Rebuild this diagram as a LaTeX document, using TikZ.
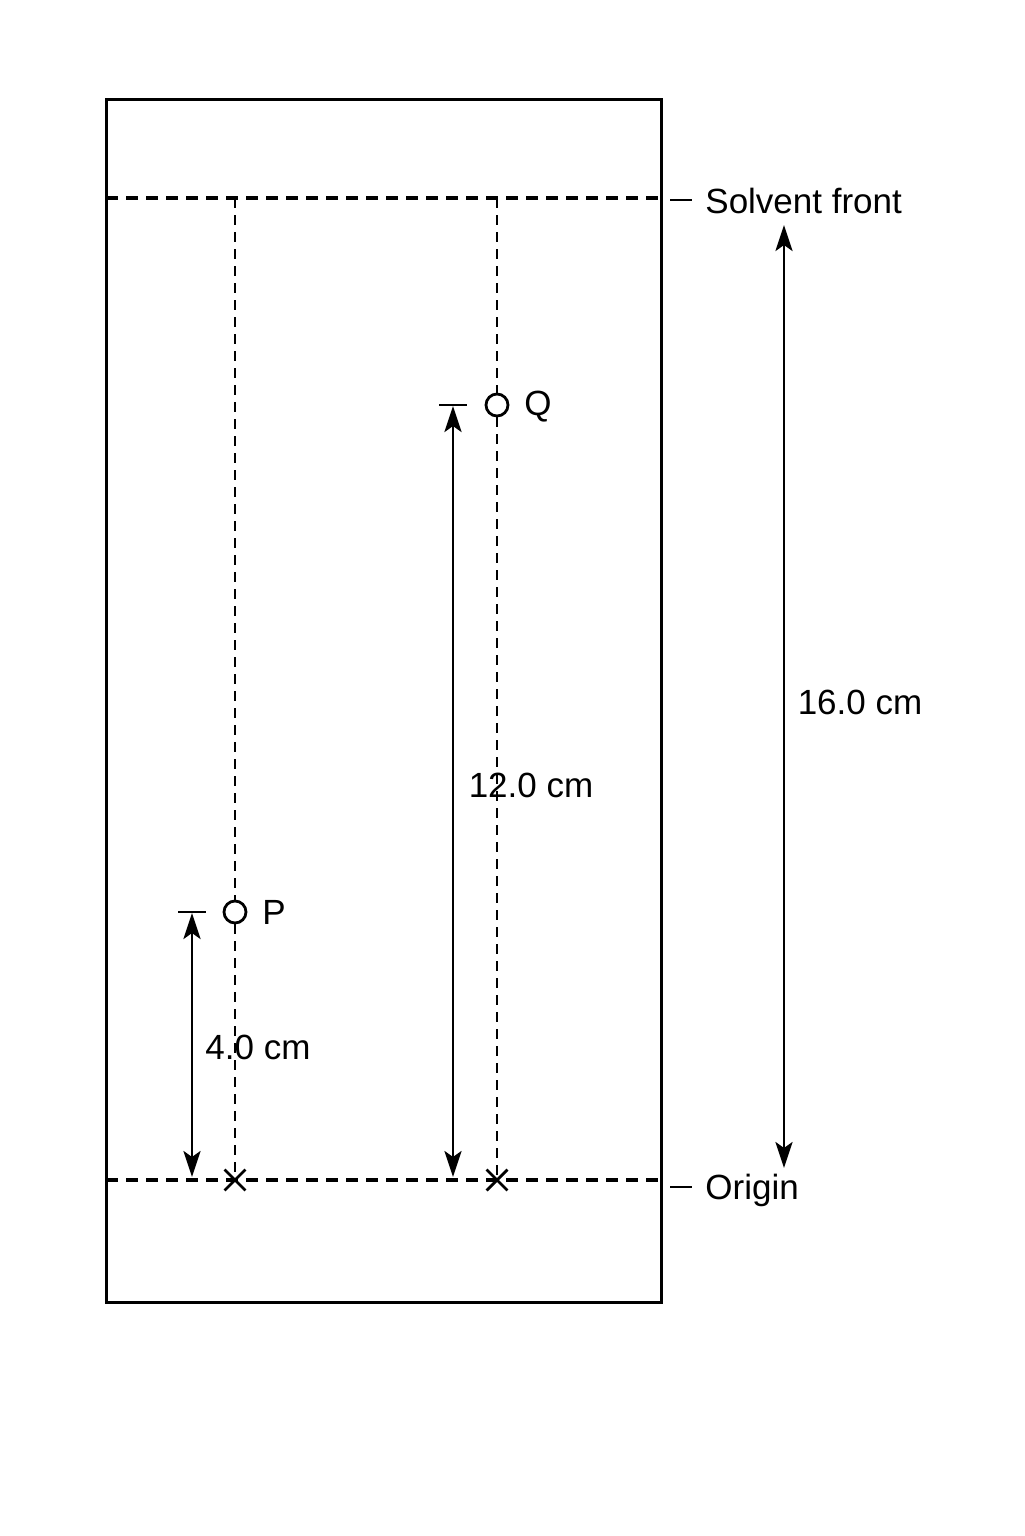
\documentclass[tikz,border=0pt]{standalone}
\usepackage{fontspec}
\setmainfont{Liberation Sans}
\usetikzlibrary{arrows.meta,shapes.misc}
\begin{document}
\begin{tikzpicture}[x=0.5pt,y=-0.5pt,
  plate/.style={line width=1.5pt},
  mainline/.style={line width=1.6pt,dash pattern=on 6pt off 4pt},
  track/.style={line width=1pt,dash pattern=on 5pt off 3.5pt},
  spot/.style={circle,draw,line width=1.4pt,minimum size=11pt,inner sep=0pt,fill=white},
  xmark/.style={cross out,draw,line width=1.4pt,minimum size=9pt,inner sep=0pt},
  arr/.tip={Stealth[length=13pt,width=8.5pt,inset=3pt]},
  dim/.style={line width=1.4pt,arr-arr},
  tick/.style={line width=1.2pt},
  lbl/.style={font=\fontsize{17.5}{20}\selectfont,inner sep=0pt}]
\useasboundingbox (0,0) rectangle (1024,1536);
\fill[white] (0,0) rectangle (1024,1536);
% plate
\draw[plate] (106,100) rectangle (661,1302);
% solvent front and origin
\coordinate (sfL) at (106,198); \coordinate (sfR) at (661,198);
\coordinate (orL) at (106,1180); \coordinate (orR) at (661,1180);
\draw[mainline] (sfL) -- (sfR);
\draw[mainline] (orL) -- (orR);
% tracks
\coordinate (pTop) at (235,198); \coordinate (qTop) at (497,198);
\coordinate (pO) at (235,1180); \coordinate (qO) at (497,1180);
\node[spot] (P) at (235,912) {};
\node[spot] (Q) at (497,405) {};
\draw[track] (pTop) -- (P.north);
\draw[track] (P.south) -- (pO);
\draw[track] (qTop) -- (Q.north);
\draw[track] (Q.south) -- (qO);
\node[xmark] (px) at (pO) {};
\node[xmark] (qx) at (qO) {};
\node[lbl,anchor=west] (Plbl) at (262,912) {P};
\node[lbl,anchor=west] (Qlbl) at (524,407) {Q};
% P distance
\coordinate (pt1) at (178,912); \coordinate (pt2) at (206,912);
\draw[tick] (pt1) -- (pt2);
\coordinate (pa1) at (192,913); \coordinate (pa2) at (192,1177);
\draw[dim] (pa1) -- (pa2);
\node[lbl] (pd) at (258,1047) {4.0 cm};
% Q distance
\coordinate (qt1) at (439,405); \coordinate (qt2) at (467,405);
\draw[tick] (qt1) -- (qt2);
\coordinate (qa1) at (453,406); \coordinate (qa2) at (453,1177);
\draw[dim] (qa1) -- (qa2);
\node[lbl] (qd) at (531,785) {12.0 cm};
% solvent distance
\coordinate (sa1) at (784,225); \coordinate (sa2) at (784,1168);
\draw[dim] (sa1) -- (sa2);
\node[lbl] (sd) at (860,702) {16.0 cm};
% labels
\coordinate (sft1) at (670,200); \coordinate (sft2) at (692,200);
\draw[tick] (sft1) -- (sft2);
\node[lbl,anchor=west] (sf) at (705,201) {Solvent front};
\coordinate (ort1) at (670,1187); \coordinate (ort2) at (692,1187);
\draw[tick] (ort1) -- (ort2);
\node[lbl,anchor=west] (or) at (705,1190) {Origin};
\end{tikzpicture}
\end{document}
